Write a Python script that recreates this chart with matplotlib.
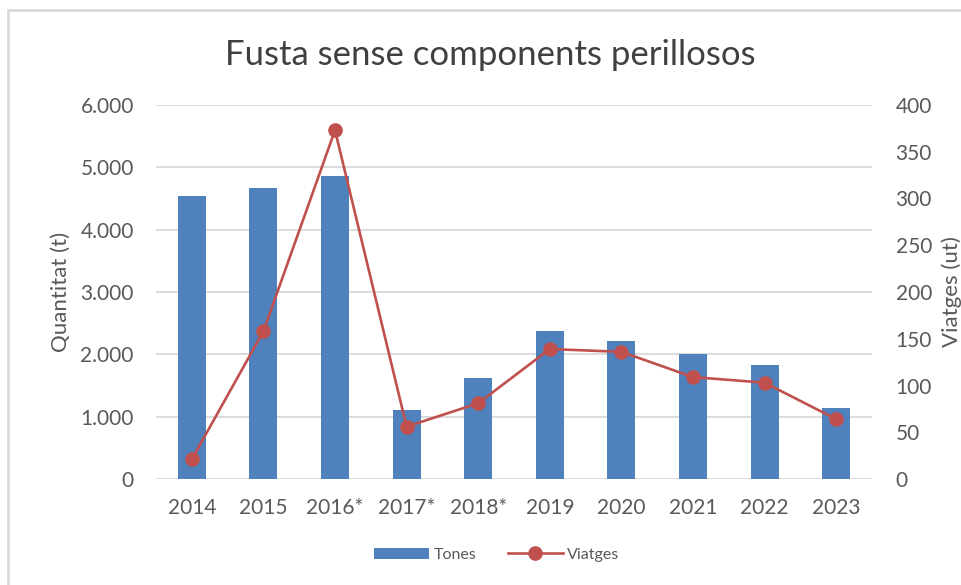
import matplotlib.pyplot as plt
import matplotlib.ticker as mticker
from matplotlib.patches import Rectangle

plt.rcParams['font.family'] = ['Lato', 'DejaVu Sans']

anys = ["2014", "2015", "2016*", "2017*", "2018*", "2019", "2020", "2021", "2022", "2023"]
tones = [4540, 4664, 4866, 1107, 1620, 2379, 2214, 2010, 1829, 1144]
viatges = [21, 158, 373, 56, 81, 139, 136, 109, 103, 64]

color_barra = "#4F81BD"
color_linia = "#C0504D"
color_text = "#595959"
color_reixa = "#D9D9D9"

fig = plt.figure(figsize=(9.61, 5.85), dpi=100)

# marc del gràfic (retallat a la dreta i a baix)
fig.patches.append(Rectangle((8 / 961, -0.1), 1.2, 1 - 10 / 585 + 0.1,
                             transform=fig.transFigure, fill=False,
                             edgecolor=color_reixa, linewidth=2))

ax = fig.add_axes([156 / 961, 1 - 479 / 585, 716 / 961, 374 / 585])
x = range(len(anys))
ax.bar(x, tones, width=0.39, color=color_barra, label="Tones", zorder=2)
ax.set_xlim(-0.5, len(anys) - 0.5)
ax.set_ylim(0, 6000)
ax.yaxis.set_major_locator(mticker.MultipleLocator(1000))
ax.yaxis.set_major_formatter(mticker.FuncFormatter(lambda v, p: f"{int(v):,}".replace(",", ".")))
ax.set_xticks(list(x))
ax.set_xticklabels(anys)
ax.grid(axis="y", color=color_reixa, linewidth=1.3, zorder=0)
ax.set_axisbelow(True)
for s in ax.spines.values():
    s.set_visible(False)
ax.tick_params(axis="both", length=0, labelsize=15, colors=color_text)
ax.tick_params(axis="y", pad=16)
ax.tick_params(axis="x", pad=14)
ax.set_ylabel("Quantitat (t)", fontsize=16, color=color_text, labelpad=7)

# títol centrat sobre tot el gràfic
fig.text(490 / 961, 1 - 55 / 585, "Fusta sense components perillosos",
         fontsize=25, color="#404040", ha="center", va="center")

ax2 = ax.twinx()
ax2.plot(x, viatges, color=color_linia, linewidth=1.9, marker="o", markersize=9.5,
         label="Viatges", zorder=3)
ax2.set_ylim(0, 400)
ax2.yaxis.set_major_locator(mticker.MultipleLocator(50))
for s in ax2.spines.values():
    s.set_visible(False)
ax2.tick_params(axis="y", length=0, labelsize=15, colors=color_text, pad=17)
ax2.set_ylabel("Viatges (ut)", fontsize=16, color=color_text, labelpad=7)

h1, l1 = ax.get_legend_handles_labels()
h2, l2 = ax2.get_legend_handles_labels()
fig.legend(h1 + h2, l1 + l2, loc="center", bbox_to_anchor=(497 / 961, 1 - 555 / 585),
           ncol=2, frameon=False, fontsize=11.5, handlelength=3.4, handletextpad=0.3,
           columnspacing=2.0, labelcolor=color_text)

fig.savefig("out.png", dpi=100)
